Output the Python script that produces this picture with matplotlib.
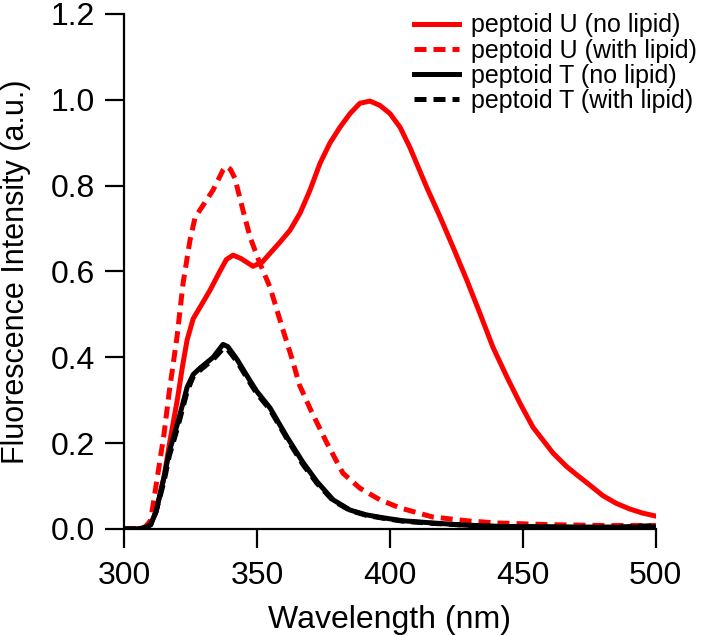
import matplotlib
matplotlib.use("Agg")
import matplotlib.pyplot as plt
import numpy as np

plt.rcParams['font.family'] = ['Liberation Sans', 'DejaVu Sans']

# Peptoid U (no lipid)
u_no_wl = [300, 305, 308, 310, 312, 315, 317.3, 320, 322, 323.7, 326, 328.6, 332.3, 336, 338.5, 341, 344, 348.5,
           352, 355, 358.6, 362.4, 366.2, 369.9, 373.7, 377.4, 381.2, 385, 388.7, 392.5, 396.2, 400, 403.8,
           407.5, 410.5, 413.9, 418.8, 423.7, 428.9, 433.8, 438.7, 444, 448.9, 453.8, 461.3, 466.5, 470.3,
           475, 480, 485, 490, 495, 500]
u_no_val = [0.0, 0.0, 0.003, 0.01, 0.04, 0.12, 0.207, 0.30, 0.38, 0.44, 0.49, 0.517, 0.556, 0.60, 0.628, 0.638, 0.63, 0.612,
            0.622, 0.643, 0.668, 0.696, 0.736, 0.789, 0.852, 0.899, 0.936, 0.968, 0.992, 0.997, 0.987, 0.968, 0.936,
            0.889, 0.845, 0.795, 0.728, 0.657, 0.58, 0.503, 0.424, 0.354, 0.293, 0.237, 0.177, 0.145, 0.126,
            0.103, 0.078, 0.06, 0.047, 0.037, 0.03]

# Peptoid U (with lipid)
u_lip_wl = [300, 305, 308, 310, 312, 315, 317, 319.9, 322.2, 324.8, 326.7, 329.7, 333.5, 337.2, 338.5, 340,
            341.7, 344.7, 347.4, 351, 354.9, 359.8, 363, 366, 370, 376.3, 382.3, 388.7, 396.2, 403.8, 416,
            429, 440, 460, 480, 500]
u_lip_val = [0.0, 0.0, 0.005, 0.02, 0.10, 0.22, 0.32, 0.447, 0.573, 0.673, 0.726, 0.754, 0.79, 0.836, 0.845, 0.838,
             0.817, 0.743, 0.68, 0.62, 0.563, 0.463, 0.40, 0.335, 0.28, 0.20, 0.13, 0.095, 0.068, 0.049, 0.028,
             0.019, 0.014, 0.01, 0.008, 0.008]

# Peptoid T (no lipid)
t_no_wl = [300, 305, 308, 310, 312, 315, 317, 320.3, 323.7, 326, 328.6, 333.5, 337.2, 339, 342.5, 347.4,
           350, 354.9, 361.3, 367.3, 372.6, 378.6, 385, 391, 397.4, 405, 416, 428, 440, 455, 470, 485, 500]
t_no_val = [0.0, 0.0, 0.003, 0.01, 0.04, 0.12, 0.18, 0.25, 0.33, 0.36, 0.375, 0.40, 0.43, 0.425, 0.395, 0.345,
            0.32, 0.282, 0.214, 0.155, 0.11, 0.068, 0.044, 0.033, 0.026, 0.019, 0.014, 0.009, 0.006, 0.005, 0.004, 0.004, 0.005]

# Peptoid T (with lipid)
t_lip_wl = t_no_wl
t_lip_val = [0.0, 0.0, 0.003, 0.01, 0.04, 0.11, 0.17, 0.24, 0.32, 0.355, 0.37, 0.395, 0.42, 0.418, 0.39, 0.34,
             0.315, 0.278, 0.21, 0.15, 0.106, 0.066, 0.043, 0.032, 0.025, 0.018, 0.013, 0.009, 0.006, 0.005, 0.004, 0.004, 0.008]

labels = ["peptoid U (no lipid)", "peptoid U (with lipid)", "peptoid T (no lipid)", "peptoid T (with lipid)"]

fig = plt.figure(figsize=(7.09, 6.35), dpi=100)
ax = fig.add_axes([0.175, 0.167, 0.75, 0.811])

lw = 3.6
dash = (2.4, 1.4)
ax.plot(u_no_wl, u_no_val, color='#ff0000', lw=lw, label=labels[0])
ax.plot(u_lip_wl, u_lip_val, color='#ff0000', lw=lw, dashes=dash, label=labels[1])
ax.plot(t_no_wl, t_no_val, color='black', lw=lw, label=labels[2])
ax.plot(t_lip_wl, t_lip_val, color='black', lw=lw, dashes=dash, label=labels[3])

ax.set_xlim(300, 500)
ax.set_ylim(0, 1.2)
ax.set_xticks([300, 350, 400, 450, 500])
ax.set_yticks([0.0, 0.2, 0.4, 0.6, 0.8, 1.0, 1.2])
ax.set_yticklabels(["0.0", "0.2", "0.4", "0.6", "0.8", "1.0", "1.2"])
for s in ['top', 'right']:
    ax.spines[s].set_visible(False)
for s in ['left', 'bottom']:
    ax.spines[s].set_linewidth(1.6)
ax.tick_params(direction='out', length=14, width=1.6, labelsize=23)
ax.tick_params(axis='y', pad=7)
ax.tick_params(axis='x', pad=9)
ax.set_xlabel("Wavelength (nm)", fontsize=23, labelpad=10)
ax.set_ylabel("Fluorescence Intensity (a.u.)", fontsize=22, labelpad=14)

fig.legend(loc='upper right', bbox_to_anchor=(0.983, 0.979), frameon=False, fontsize=18,
           handlelength=1.8, handletextpad=0.48, labelspacing=0.05, borderpad=0, borderaxespad=0)

fig.savefig("out.png", dpi=100)
